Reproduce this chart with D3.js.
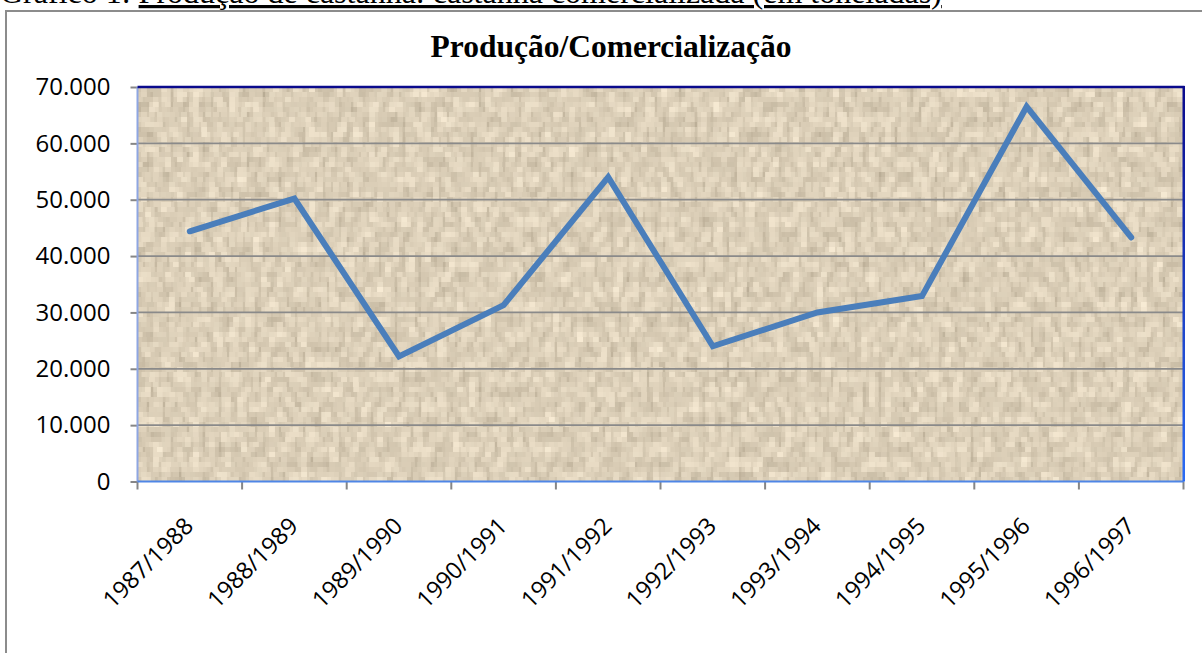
<!DOCTYPE html>
<html>
<head>
<meta charset="utf-8">
<script src="https://cdn.jsdelivr.net/npm/d3@7/dist/d3.min.js"></script>
<style>
  html, body { margin: 0; padding: 0; background: #ffffff; }
  svg { display: block; }
</style>
</head>
<body>
<svg id="chart" width="1202" height="653"></svg>
<script>
// ---- data ----
const categories = ["1987/1988","1988/1989","1989/1990","1990/1991","1991/1992",
                    "1992/1993","1993/1994","1994/1995","1995/1996","1996/1997"];
const values = [44400, 50200, 22200, 31300, 54000, 24000, 30000, 32900, 66500, 43300];
const yTicks = [0, 10000, 20000, 30000, 40000, 50000, 60000, 70000];
const chartTitle = "Produção/Comercialização";
const captionLead = "Gráfico 1: ";
const captionUnder = "Produção de castanha: castanha comercializada (em toneladas)";

const svg = d3.select("#chart");
const plot = { left: 137.5, right: 1183.5, top: 87, bottom: 481.5 };

const loc = d3.formatLocale({ decimal: ",", thousands: ".", grouping: [3], currency: ["", ""] });
const fmt = loc.format(",d");

const x = d3.scaleBand().domain(categories).range([plot.left, plot.right]).padding(0);
const y = d3.scaleLinear().domain([0, 70000]).range([plot.bottom, plot.top]);

// texture filter (pixelated noise, like the parchment fill)
const defs = svg.append("defs");
const cell = 5;
const f = defs.append("filter").attr("id", "paper")
  .attr("filterUnits", "userSpaceOnUse")
  .attr("color-interpolation-filters", "sRGB")
  .attr("x", plot.left).attr("y", plot.top)
  .attr("width", plot.right - plot.left).attr("height", plot.bottom - plot.top);
f.append("feTurbulence").attr("type", "fractalNoise")
  .attr("baseFrequency", "0.13 0.07").attr("numOctaves", 2).attr("seed", 5).attr("result", "n");
f.append("feColorMatrix").attr("in", "n").attr("type", "matrix")
  .attr("values", "0.32 0 0 0 0.69  0.32 0 0 0 0.64  0.32 0 0 0 0.55  0 0 0 0 1")
  .attr("result", "c");
f.append("feFlood").attr("x", plot.left + 2).attr("y", plot.top + 2)
  .attr("width", 1).attr("height", 1).attr("flood-color", "#fff").attr("result", "dot");
f.append("feComposite").attr("in", "dot").attr("in2", "dot").attr("operator", "over")
  .attr("x", plot.left).attr("y", plot.top).attr("width", cell).attr("height", cell)
  .attr("result", "tileSrc");
f.append("feTile").attr("in", "tileSrc").attr("result", "grid");
f.append("feComposite").attr("in", "c").attr("in2", "grid").attr("operator", "in").attr("result", "dots");
f.append("feMorphology").attr("in", "dots").attr("operator", "dilate").attr("radius", 2);

const grad = defs.append("linearGradient").attr("id", "rightGrad")
  .attr("x1", 0).attr("y1", 0).attr("x2", 0).attr("y2", 1);
grad.append("stop").attr("offset", "0%").attr("stop-color", "#0a0a8c");
grad.append("stop").attr("offset", "100%").attr("stop-color", "#2a6cf5");

// caption (cut off at top, as in the source)
const cap = svg.append("text")
  .attr("x", 0).attr("y", 3)
  .attr("font-family", "'Liberation Serif', 'Times New Roman', serif")
  .attr("font-size", 32).attr("fill", "#000");
cap.append("tspan").text(captionLead);
cap.append("tspan").attr("text-decoration", "underline").text(captionUnder);

// outer chart border
svg.append("rect")
  .attr("x", 6).attr("y", 11).attr("width", 1300).attr("height", 800)
  .attr("fill", "none").attr("stroke", "#8c8c8c").attr("stroke-width", 2);

// title
svg.append("text")
  .attr("x", 611).attr("y", 57)
  .attr("text-anchor", "middle")
  .attr("font-family", "'Liberation Serif', 'Times New Roman', serif")
  .attr("font-weight", "bold").attr("font-size", 31.5)
  .attr("fill", "#000").text(chartTitle);

// plot area background
svg.append("rect")
  .attr("x", plot.left).attr("y", plot.top)
  .attr("width", plot.right - plot.left).attr("height", plot.bottom - plot.top)
  .attr("fill", "#d9cbb3");
svg.append("rect")
  .attr("x", plot.left).attr("y", plot.top)
  .attr("width", plot.right - plot.left).attr("height", plot.bottom - plot.top)
  .attr("fill", "#d9cbb3").attr("filter", "url(#paper)");

// gridlines
svg.append("g").selectAll("line")
  .data(yTicks.filter(t => t > 0 && t < 70000))
  .join("line")
  .attr("x1", plot.left).attr("x2", plot.right)
  .attr("y1", d => y(d)).attr("y2", d => y(d))
  .attr("stroke", "#8a8a8a").attr("stroke-width", 1.8);

// y axis
const yAxis = svg.append("g")
  .attr("transform", `translate(${plot.left},0)`)
  .call(d3.axisLeft(y).tickValues(yTicks).tickFormat(fmt).tickSize(7).tickPadding(20));
yAxis.select(".domain").remove();
yAxis.selectAll(".tick line").attr("stroke", "#868686").attr("stroke-width", 2);
yAxis.selectAll(".tick text")
  .attr("font-family", "'Open Sans', sans-serif").attr("font-size", 24).attr("fill", "#000");

// x ticks at category boundaries
const xTickPos = categories.map(c => x(c)).concat([x.range()[1]]);
svg.append("g").selectAll("line").data(xTickPos).join("line")
  .attr("x1", d => d).attr("x2", d => d)
  .attr("y1", plot.bottom).attr("y2", plot.bottom + 8)
  .attr("stroke", "#868686").attr("stroke-width", 2);

// plot area borders
svg.append("line").attr("x1", plot.left).attr("x2", plot.left)
  .attr("y1", plot.top).attr("y2", plot.bottom)
  .attr("stroke", "#8ea6e2").attr("stroke-width", 2);
svg.append("line").attr("x1", plot.left).attr("x2", plot.right)
  .attr("y1", plot.bottom).attr("y2", plot.bottom)
  .attr("stroke", "#4f86e6").attr("stroke-width", 2);
svg.append("line").attr("x1", plot.left).attr("x2", plot.right + 1)
  .attr("y1", plot.top).attr("y2", plot.top)
  .attr("stroke", "#0a0a8c").attr("stroke-width", 2.5);
svg.append("rect").attr("x", plot.right - 1).attr("y", plot.top - 1)
  .attr("width", 2.5).attr("height", plot.bottom - plot.top + 1)
  .attr("fill", "url(#rightGrad)");

// x labels
svg.append("g").selectAll("text").data(categories).join("text")
  .attr("transform", d => `translate(${x(d) + x.bandwidth() / 2 + 5},${plot.bottom + 46}) rotate(-45)`)
  .attr("text-anchor", "end")
  .attr("font-family", "'Open Sans', sans-serif").attr("font-size", 23.5).attr("fill", "#000")
  .text(d => d);

// line
const line = d3.line()
  .x((d, i) => x(categories[i]) + x.bandwidth() / 2)
  .y(d => y(d));
svg.append("path").datum(values)
  .attr("d", line)
  .attr("fill", "none").attr("stroke", "#4a7ebb").attr("stroke-width", 6)
  .attr("stroke-linejoin", "miter").attr("stroke-linecap", "round");
</script>
</body>
</html>
